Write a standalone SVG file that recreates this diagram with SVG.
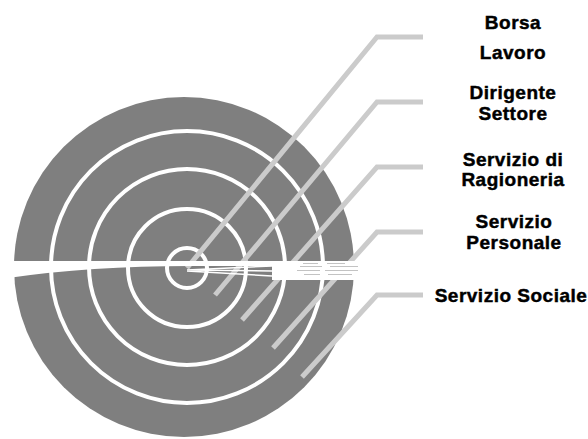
<svg xmlns="http://www.w3.org/2000/svg" width="588" height="439" viewBox="0 0 588 439">
<style>
.lbl{font-family:"Liberation Sans",Arial,sans-serif;font-weight:bold;font-size:19px;letter-spacing:0.5px;fill:#000;stroke:#000;stroke-width:0.45;text-anchor:middle}
.ring{fill:none;stroke:#fff;stroke-width:4}
.lead{fill:none;stroke:#cbcbcb;stroke-width:5;stroke-linejoin:miter}
.mark{stroke:#b4b4b4;stroke-width:0.8}
</style>
<rect width="588" height="439" fill="#fff"/>
<g id="target">
<circle cx="184" cy="267" r="170" fill="#7f7f7f"/>
<circle class="ring" cx="187" cy="267" r="136"/>
<circle class="ring" cx="187" cy="267" r="98"/>
<circle class="ring" cx="187" cy="268" r="59"/>
<circle class="ring" cx="187" cy="268" r="20"/>
</g>
<g id="connectors">
<path class="lead" d="M423 37 L377 37 L187 268"/>
<path class="lead" d="M423 102 L377 102 L215 295"/>
<path class="lead" d="M423 167 L377 167 L242 320"/>
<path class="lead" d="M423 232 L377 232 L273 348"/>
<path class="lead" d="M423 295 L377 295 L302 377"/>
</g>
<g id="cut">
<path d="M8 261 L362 261 L362 266 L190 266 Q90 266 8 278 Z" fill="#fff"/>
<rect x="272" y="261" width="90" height="19" fill="#fff"/>
<path d="M187 270 L272 266 M187 270 L272 271 M187 271 L272 276" stroke="#fff" stroke-width="1.5" fill="none"/>
<path class="mark" d="M303 263.5 H318 M327 263.5 H345 M300 266.5 H322 M330 266.5 H358 M297 270.5 H320 M325 270.5 H358 M304 274.5 H320 M328 274.5 H352"/>
</g>
<g id="node-borsa-lavoro">
<text class="lbl" x="513" y="29">Borsa</text>
<text class="lbl" x="513" y="59">Lavoro</text>
</g>
<g id="node-dirigente-settore">
<text class="lbl" x="513" y="99">Dirigente</text>
<text class="lbl" x="513" y="120">Settore</text>
</g>
<g id="node-ragioneria">
<text class="lbl" x="513" y="166">Servizio di</text>
<text class="lbl" x="513" y="186">Ragioneria</text>
</g>
<g id="node-personale">
<text class="lbl" x="514" y="228">Servizio</text>
<text class="lbl" x="514" y="249">Personale</text>
</g>
<g id="node-sociale">
<text class="lbl" x="511" y="302">Servizio Sociale</text>
</g>
</svg>
